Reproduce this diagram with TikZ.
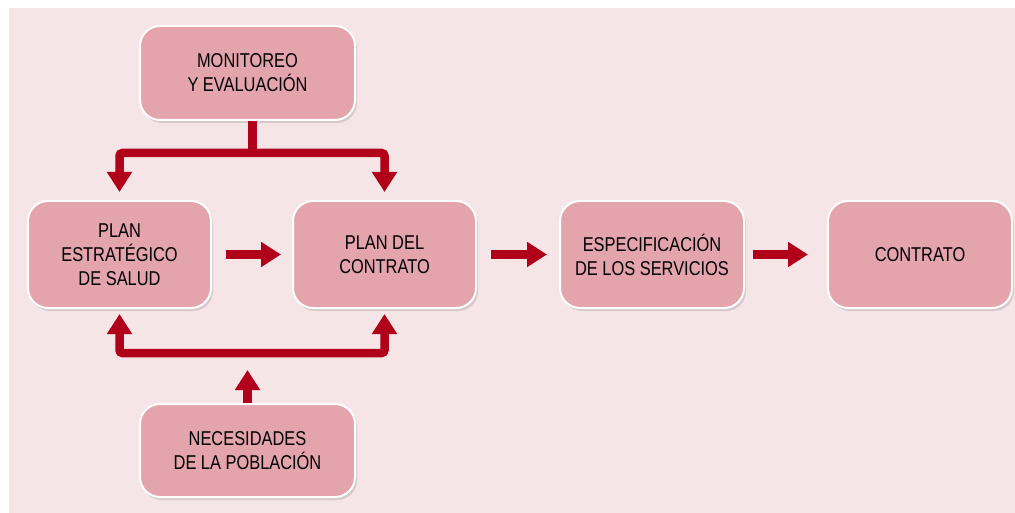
\documentclass[tikz,border=0pt]{standalone}
\usepackage{fontspec}
\setmainfont[FakeStretch=0.82]{Liberation Sans}
\usetikzlibrary{arrows.meta,calc,shadows}
\definecolor{bgpink}{HTML}{F5E5E7}
\definecolor{boxpink}{HTML}{E3A4AB}
\definecolor{arrred}{HTML}{B10019}
\tikzset{
  x=1pt,y=-1pt,
  box/.style={draw=white,line width=2pt,fill=boxpink,rounded corners=20pt,
    align=center,font=\fontsize{20}{24}\selectfont,inner sep=0pt,
    drop shadow={shadow xshift=2pt,shadow yshift=-3pt,opacity=0.12,fill=black}},
  conn/.style={draw=arrred,line width=8.5pt,rounded corners=3pt},
  tip/.style={-{Triangle[width=24pt,length=20pt]}},
  tips/.style={{Triangle[width=24pt,length=20pt]}-{Triangle[width=24pt,length=20pt]}}
}
\begin{document}
\begin{tikzpicture}
\useasboundingbox (0,0) rectangle (1015,513);
\fill[bgpink] (9,8) rectangle (1015,513);
\node[box,minimum width=215pt,minimum height=94pt] (mon) at (247.5,73) {MONITOREO\\Y EVALUACIÓN};
\node[box,minimum width=183pt,minimum height=107pt] (pe) at (119.5,254.5) {PLAN\\ESTRATÉGICO\\DE SALUD};
\node[box,minimum width=183pt,minimum height=107pt] (pc) at (384.5,254.5) {PLAN DEL\\CONTRATO};
\node[box,minimum width=184pt,minimum height=107pt] (es) at (652,254.5) {ESPECIFICACIÓN\\DE LOS SERVICIOS};
\node[box,minimum width=184pt,minimum height=107pt] (co) at (920,254.5) {CONTRATO};
\node[box,minimum width=215pt,minimum height=93pt] (ne) at (247.5,450.5) {NECESIDADES\\DE LA POBLACIÓN};
% top fork
\coordinate (tj) at ($(mon.south)+(5,32)$);
\draw[conn] ($(mon.south)+(5,0)$) -- (tj);
\draw[conn,tips,shorten <=8pt,shorten >=8pt] (pe.north) |- (tj) -| (pc.north);
% bottom fork
\coordinate (bj) at (247.5,353);
\draw[conn,tips,shorten <=5pt,shorten >=5pt] (pe.south) |- (bj) -| (pc.south);
\draw[conn,tip,shorten >=17pt] (ne.north) -- (bj);
% horizontal arrows
\draw[conn,tip,shorten <=14pt,shorten >=11pt] (pe.east) -- (pc.west);
\draw[conn,tip,shorten <=14pt,shorten >=12pt] (pc.east) -- (es.west);
\draw[conn,tip,shorten <=8pt,shorten >=19pt] (es.east) -- (co.west);
\end{tikzpicture}
\end{document}
